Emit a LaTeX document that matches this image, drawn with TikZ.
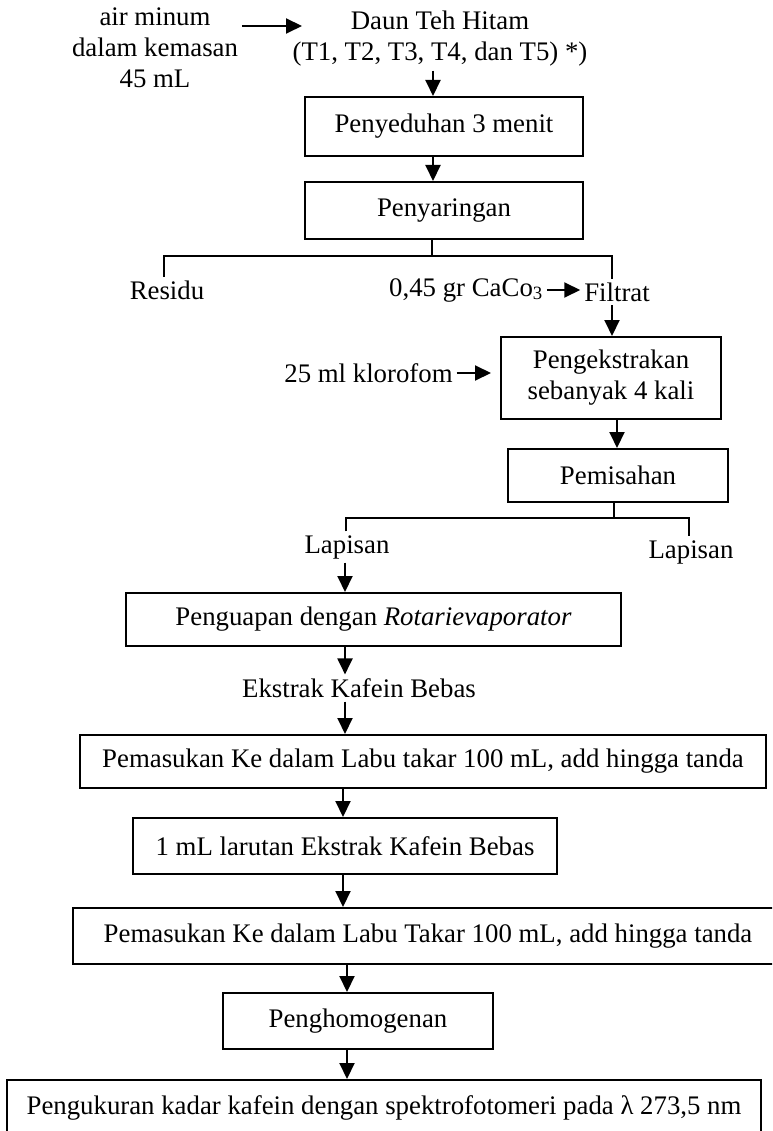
\documentclass[tikz,border=0pt]{standalone}
\usepackage{fontspec}
\setmainfont{Liberation Serif}
\usetikzlibrary{arrows.meta}

\begin{document}
\begin{tikzpicture}[x=1pt, y=-1pt, line width=2pt,
    every node/.style={font=\fontsize{26.8}{31}\selectfont, inner sep=3pt, align=center},
    box/.style={draw, inner sep=0pt, minimum height=56pt},
    arr/.style={-{Triangle[length=16pt, width=15pt]}}]
    \useasboundingbox (0, 0) rectangle (772, 1131);
    \clip (0, 0) rectangle (772, 1131);

    \coordinate (A1) at (302, 26);
    \coordinate (C1) at (433, 0);
    \coordinate (J1) at (432, 256);
    \coordinate (S1) at (164, 256);
    \coordinate (S2) at (612, 256);
    \coordinate (C2) at (617, 0);
    \coordinate (J2) at (614, 518);
    \coordinate (S3) at (346, 518);
    \coordinate (S4) at (689, 518);
    \coordinate (C3) at (345, 0);
    \coordinate (C4) at (343, 0);
    \coordinate (C5) at (347, 0);

    \node (air) at (155, 48) {air minum\\dalam kemasan\\45 mL};
    \node (daun) at (440, 39) {Daun Teh Hitam\\(T1, T2, T3, T4, dan T5) *)};
    \node[box, minimum width=278pt, minimum height=59pt] (peny) at (444, 126.5) {Penyeduhan 3 menit};
    \node[box, minimum width=278pt, minimum height=57pt] (saring) at (444, 210.5) {Penyaringan};
    \node (residu) at (167, 290) {Residu};
    \node (caco) at (466, 290) {0,45 gr CaCo\textsubscript{3}};
    \node (filtrat) at (617, 292) {Filtrat};
    \node (klor) at (368.5, 373) {25 ml klorofom};
    \node[box, minimum width=220pt, minimum height=82pt] (ekstr) at (611, 378) {Pengekstrakan\\sebanyak 4 kali};
    \node[box, minimum width=220pt, minimum height=53pt] (pisah) at (618, 475.5) {Pemisahan};
    \node (lap1) at (347, 547) {Lapisan};
    \node (lap2) at (691, 552) {Lapisan};
    \node[box, minimum width=495pt, minimum height=53pt] (uap) at (373.5, 619.5) {Penguapan dengan \textit{Rotarievaporator}};
    \node (kafein) at (359, 688) {Ekstrak Kafein Bebas};
    \node[box, minimum width=686pt, minimum height=53pt] (masuk1) at (423, 761.5) {Pemasukan Ke dalam Labu takar 100 mL, add hingga tanda};
    \node[box, minimum width=424pt] (larut) at (345, 846) {1 mL larutan Ekstrak Kafein Bebas};
    \node[box, minimum width=710pt] (masuk2) at (428, 936) {Pemasukan Ke dalam Labu Takar 100 mL, add hingga tanda};
    \node[box, minimum width=270pt] (homog) at (358, 1021) {Penghomogenan};
    \node[box, minimum width=754pt] (ukur) at (384, 1108) {Pengukuran kadar kafein dengan spektrofotomeri pada λ 273,5 nm};

    \draw[arr] (air.east |- A1) -- (A1);
    \draw[arr] (daun.south -| C1) -- (peny.north -| C1);
    \draw[arr] (peny.south -| C1) -- (saring.north -| C1);

    \draw (saring.south -| J1) -- (J1); % split
    \draw (residu.north -| S1) -- (S1) -- (S2) -- (filtrat.north -| S2);
    \draw[arr] (caco.east) -- (caco.east -| filtrat.west);
    \draw[arr] (filtrat.south -| S2) -- (ekstr.north -| S2);
    \draw[arr, shorten >=9pt] (klor.east) -- (klor.east -| ekstr.west);
    \draw[arr] (ekstr.south -| C2) -- (pisah.north -| C2);

    \draw (pisah.south -| J2) -- (J2); % split
    \draw (lap1.north -| S3) -- (S3) -- (S4) -- (lap2.north -| S4);
    \draw[arr] (lap1.south -| C3) -- (uap.north -| C3);
    \draw[arr] (uap.south -| C3) -- (kafein.north -| C3);
    \draw[arr] (kafein.south -| C3) -- (masuk1.north -| C3);
    \draw[arr] (masuk1.south -| C4) -- (larut.north -| C4);
    \draw[arr] (larut.south -| C4) -- (masuk2.north -| C4);
    \draw[arr] (masuk2.south -| C5) -- (homog.north -| C5);
    \draw[arr] (homog.south -| C5) -- (ukur.north -| C5);
\end{tikzpicture}
\end{document}
